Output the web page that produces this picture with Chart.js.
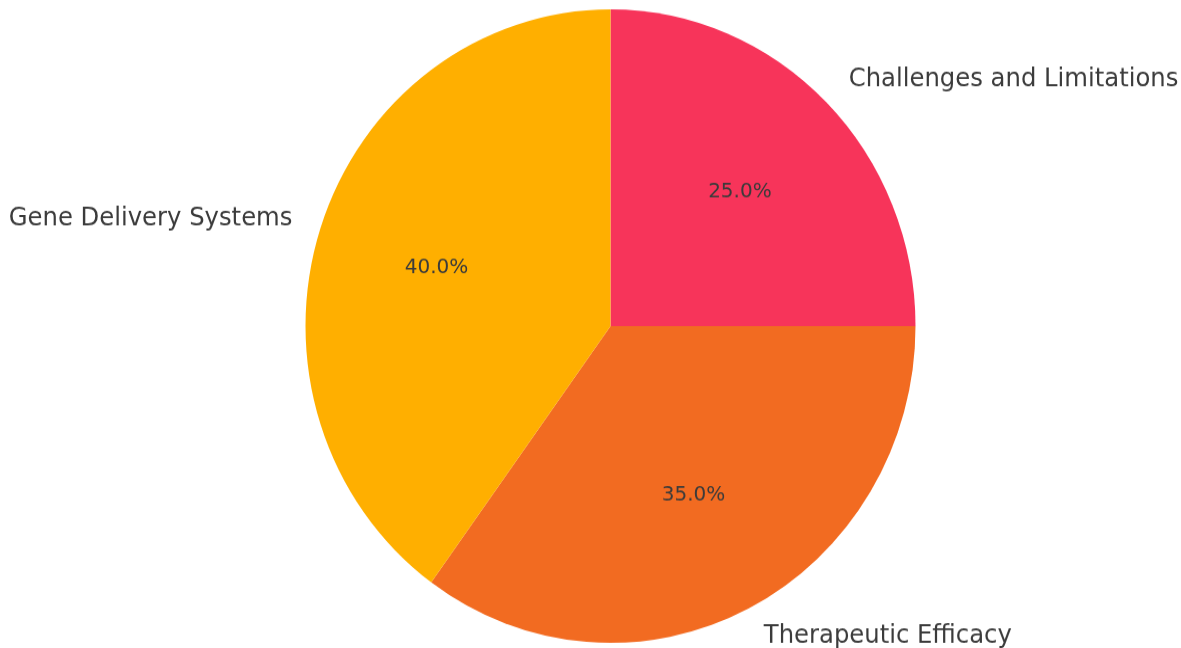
<!DOCTYPE html>
<html>
<head>
<meta charset="utf-8">
<script src="https://cdn.jsdelivr.net/npm/chart.js@4.4.1/dist/chart.umd.min.js"></script>
<style>
  html, body { margin: 0; padding: 0; background: #ffffff; overflow: hidden; }
  #wrap { width: 1181px; height: 648px; }
  #pie-chart { display: block; transform: scaleY(1.03846); transform-origin: 0 0; }
</style>
</head>
<body>
<div id="wrap">
  <canvas id="pie-chart" width="1181" height="624"></canvas>
</div>
<script>
const labels = ["Challenges and Limitations", "Therapeutic Efficacy", "Gene Delivery Systems"];
const shares = [25, 35, 40];
const colors = ["#F7345A", "#F26B21", "#FFAF00"];

const textColor = "#3b3b3b";

// matplotlib style labels: names at 1.1 r, percentages at 0.6 r
const pieLabels = {
  id: "pieLabels",
  afterDatasetsDraw(chart) {
    const ctx = chart.ctx;
    const meta = chart.getDatasetMeta(0);
    const total = shares.reduce((a, b) => a + b, 0);
    ctx.save();
    ctx.fillStyle = textColor;
    ctx.textBaseline = "middle";
    meta.data.forEach((arc, i) => {
      const p = arc.getProps(["x", "y", "startAngle", "endAngle", "outerRadius"], true);
      const mid = (p.startAngle + p.endAngle) / 2;
      const cx = Math.cos(mid), cy = Math.sin(mid);

      ctx.font = "24.3px 'DejaVu Sans'";
      ctx.textAlign = cx >= 0 ? "left" : "right";
      ctx.fillText(labels[i], p.x + cx * p.outerRadius * 1.1 + 1, p.y + cy * p.outerRadius * 1.1);

      ctx.font = "20px 'DejaVu Sans'";
      ctx.textAlign = "center";
      const pct = (shares[i] / total * 100).toFixed(1) + "%";
      ctx.fillText(pct, p.x + cx * p.outerRadius * 0.6, p.y + cy * p.outerRadius * 0.6);
    });
    ctx.restore();
  }
};

const ctx = document.getElementById("pie-chart").getContext("2d");
new Chart(ctx, {
  type: "pie",
  data: {
    labels: labels,
    datasets: [{
      data: shares,
      backgroundColor: colors,
      borderWidth: 0,
      hoverOffset: 0,
      radius: 305
    }]
  },
  options: {
    responsive: false,
    animation: false,
    devicePixelRatio: 1,
    layout: { padding: { top: 9, bottom: 5, left: 40, right: 0 } },
    plugins: {
      legend: { display: false },
      tooltip: { enabled: false }
    }
  },
  plugins: [pieLabels]
});
</script>
</body>
</html>
